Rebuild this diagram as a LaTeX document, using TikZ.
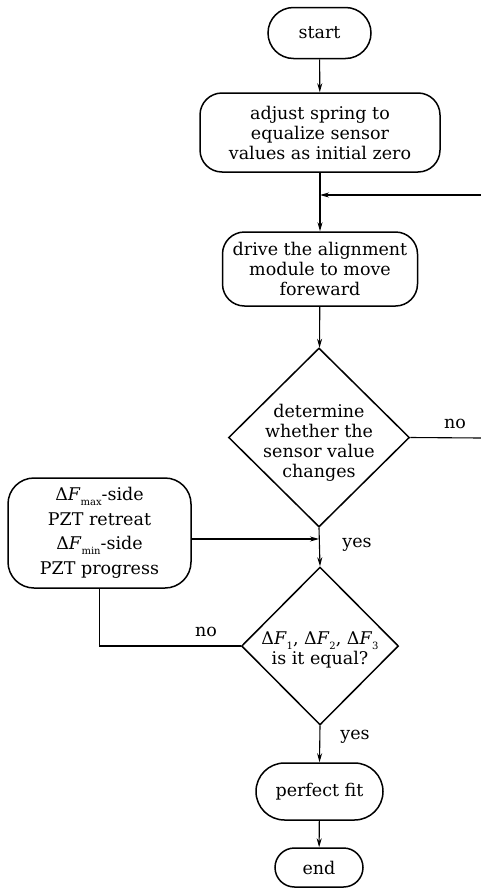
\documentclass[tikz,border=0pt]{standalone}
\usepackage{fontspec}
\setmainfont{DejaVu Serif}
\usetikzlibrary{arrows.meta}
\usetikzlibrary{shapes.geometric,shapes.misc}
\newcommand{\dF}[1]{Δ\textit{F}\raisebox{-0.5ex}{\fontsize{10}{10}\selectfont #1}}

\begin{document}
\begin{tikzpicture}[x=1pt,y=-1pt,
    every node/.style={font=\fontsize{17.5}{20}\selectfont},
    term/.style={draw, black, line width=1.5pt, rounded rectangle, inner sep=0pt},
    proc/.style={draw, black, line width=1.5pt, rectangle, rounded corners=22pt, align=center, inner sep=0pt},
    test/.style={draw, black, line width=1.5pt, diamond, align=center, inner sep=-16pt},
    flow/.style={black, line width=1.1pt, -{Stealth[length=9pt,width=5pt]}},
    link/.style={black, line width=1.1pt}]
        \useasboundingbox (0,0) rectangle (481,889);
        \node[term, minimum width=103pt, minimum height=51pt] (start) at (319.5,33) {start};
        \node[proc, minimum width=240pt, minimum height=79pt] (adjust) at (320,132.5) {adjust spring to\\equalize sensor\\values as initial zero};
        \coordinate (join) at (320,195);
        \coordinate (back) at (481,195);
        \node[proc, minimum width=195pt, minimum height=74pt] (drive) at (320,269) {drive the alignment\\module to move\\foreward};
        \node[test, minimum width=181pt, minimum height=179pt] (change) at (319,437.5) {\rule{0pt}{23pt}determine\\whether the\\sensor value\\changes};
        \coordinate (out) at (481,438);
        \node[proc, minimum width=183pt, minimum height=110pt, rounded corners=26pt, font=\fontsize{17.5}{24.5}\selectfont] (pzt) at (99.5,533) {\dF{max}-side\\PZT retreat\\\dF{min}-side\\PZT progress};
        \node[test, minimum width=157pt, minimum height=158pt] (equal) at (320,646) {\rule{0pt}{21pt}\dF{1}, \dF{2}, \dF{3}\\is it equal?};
        \node[term, minimum width=127pt, minimum height=57pt] (fit) at (319.5,791.5) {perfect fit};
        \node[term, minimum width=88pt, minimum height=39pt] (end) at (319,867.5) {end};
        % connectors
        \draw[flow] (start) -- (adjust);
        \draw[link] (adjust) -- (join);
        \draw[flow] (back) -- (join);
        \draw[flow] (join) -- (drive);
        \draw[flow] (drive) -- (change);
        \draw[link] (change.east) -- (out);
        \draw[flow] (change.south) -- (equal.north);
        \draw[flow] (pzt.east |- 0,539) -- (change.south |- 0,539);
        \draw[link] (equal.west) -| (pzt.south);
        \draw[flow] (equal.south) -- (fit.north);
        \draw[flow] (fit) -- (end);
        % labels
        \node (no1) at (455,424) {no};
        \node (yes1) at (357,545) {yes};
        \node (no2) at (206,632) {no};
        \node (yes2) at (355,737) {yes};
    \end{tikzpicture}
\end{document}
